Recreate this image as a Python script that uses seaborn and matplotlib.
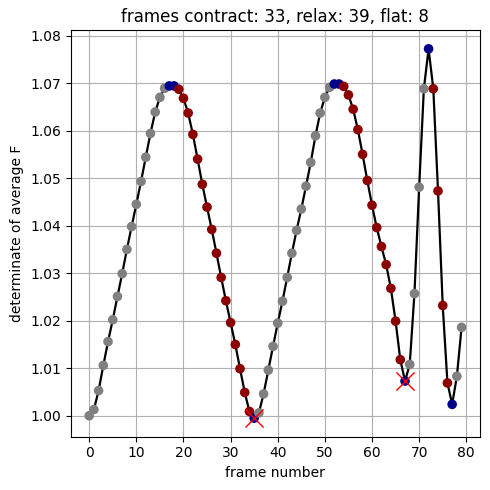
import numpy as np
import pandas as pd
import seaborn as sns
import matplotlib
matplotlib.use('Agg')
import matplotlib.pyplot as plt

# values
frames = list(range(80))
det_F = [
    1.0000, 1.0013, 1.0053, 1.0106, 1.0156, 1.0202, 1.0251, 1.0299, 1.0350, 1.0398,
    1.0445, 1.0493, 1.0544, 1.0594, 1.0639, 1.0670, 1.0689, 1.0694, 1.0694, 1.0687,
    1.0668, 1.0637, 1.0592, 1.0540, 1.0487, 1.0439, 1.0392, 1.0342, 1.0291, 1.0242,
    1.0196, 1.0150, 1.0099, 1.0049, 1.0009, 0.9995, 1.0006, 1.0046, 1.0096, 1.0146,
    1.0195, 1.0241, 1.0291, 1.0342, 1.0390, 1.0435, 1.0483, 1.0533, 1.0589, 1.0637,
    1.0670, 1.0691, 1.0698, 1.0698, 1.0693, 1.0675, 1.0645, 1.0602, 1.0550, 1.0495,
    1.0443, 1.0396, 1.0356, 1.0318, 1.0268, 1.0199, 1.0118, 1.0073, 1.0108, 1.0257,
    1.0481, 1.0688, 1.0772, 1.0688, 1.0473, 1.0232, 1.0069, 1.0024, 1.0083, 1.0186,
]
flat_frames = [17, 18, 35, 52, 53, 67, 72, 77]
contract_frames = list(range(19, 35)) + list(range(54, 67)) + list(range(73, 77))
minima_frames = [35, 67]

phase = []
for f in frames:
    if f in flat_frames:
        phase.append('flat')
    elif f in contract_frames:
        phase.append('contract')
    else:
        phase.append('relax')

df = pd.DataFrame({'frame': frames, 'detF': det_F, 'phase': phase})
n_con = (df['phase'] == 'contract').sum()
n_rel = (df['phase'] == 'relax').sum()
n_flat = (df['phase'] == 'flat').sum()

fig, ax = plt.subplots(figsize=(4.9, 4.9), dpi=100)
sns.lineplot(data=df, x='frame', y='detF', color='black', linewidth=1.6, ax=ax, zorder=2)
sns.scatterplot(data=df, x='frame', y='detF', hue='phase',
                palette={'relax': 'gray', 'contract': 'darkred', 'flat': 'darkblue'},
                s=48, linewidth=0, legend=False, ax=ax, zorder=3)
mins = df[df['frame'].isin(minima_frames)]
sns.scatterplot(data=mins, x='frame', y='detF', marker='x', color='red',
                s=170, linewidth=1, legend=False, ax=ax, zorder=4)

ax.grid(True)
ax.set_axisbelow(True)
ax.set_xlabel('frame number')
ax.set_ylabel('determinate of average F')
ax.set_title(f'frames contract: {n_con}, relax: {n_rel}, flat: {n_flat}')
fig.subplots_adjust(left=0.144, right=0.980, top=0.938, bottom=0.109)
plt.savefig('out.png')
